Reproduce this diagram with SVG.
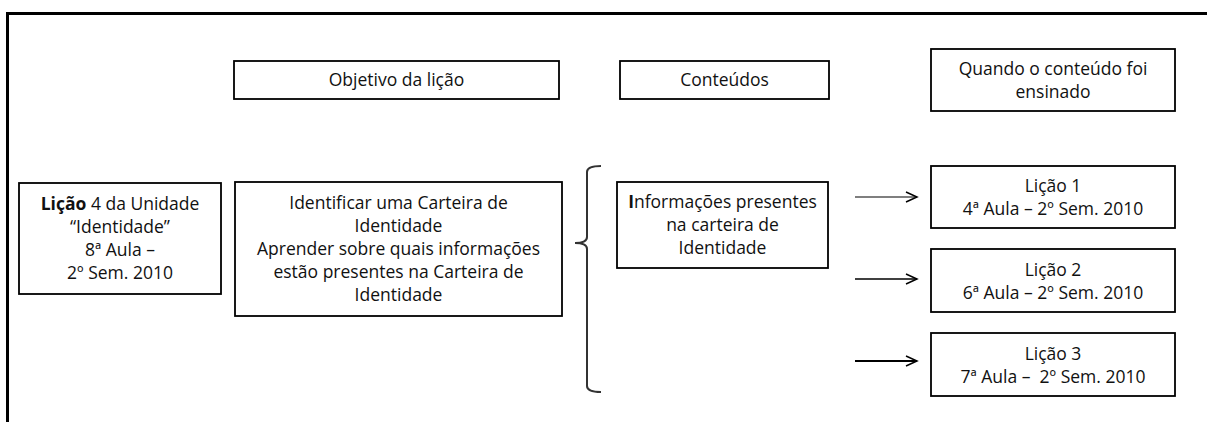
<svg xmlns="http://www.w3.org/2000/svg" width="1207" height="422" viewBox="0 0 1207 422">
<style>
.box{fill:#fff;stroke:#000;stroke-width:1.8}
.t{font-family:"Open Sans","DejaVu Sans",sans-serif;font-size:17.5px;fill:#111;text-anchor:middle}
.b{font-weight:bold}
.frame{stroke:#000;stroke-width:3;fill:none}
.arrow{stroke:#000;fill:none}
</style>
<defs>
<marker id="ah" markerWidth="16" markerHeight="14" refX="12" refY="6" orient="auto" markerUnits="userSpaceOnUse">
<path d="M1,1 L12,6 L1,11" fill="none" stroke="#000" stroke-width="1.5"/>
</marker>
</defs>
<rect width="1207" height="422" fill="#fff"/>
<path class="frame" d="M7.5,422 L7.5,13.5 L1207,13.5"/>

<g id="hdr-objetivo">
<rect class="box" x="234" y="61" width="325" height="38"/>
<text class="t" x="396.5" y="86">Objetivo da lição</text>
</g>
<g id="hdr-conteudos">
<rect class="box" x="620" y="61" width="209" height="38"/>
<text class="t" x="724.5" y="86">Conteúdos</text>
</g>
<g id="hdr-quando">
<rect class="box" x="931" y="49" width="244" height="62"/>
<text class="t" x="1053" y="74.5">Quando o conteúdo foi</text>
<text class="t" x="1053" y="97.5">ensinado</text>
</g>

<g id="licao4">
<rect class="box" x="19" y="183" width="202" height="111"/>
<text class="t" x="120" y="210"><tspan class="b">Lição</tspan> 4 da Unidade</text>
<text class="t" x="120" y="233">“Identidade”</text>
<text class="t" x="120" y="256">8ª Aula –</text>
<text class="t" x="120" y="279">2º Sem. 2010</text>
</g>

<g id="objetivo">
<rect class="box" x="235" y="182" width="327" height="134"/>
<text class="t" x="398.5" y="208.5">Identificar uma Carteira de</text>
<text class="t" x="398.5" y="231.5">Identidade</text>
<text class="t" x="398.5" y="254.5">Aprender sobre quais informações</text>
<text class="t" x="398.5" y="277.5">estão presentes na Carteira de</text>
<text class="t" x="398.5" y="300.5">Identidade</text>
</g>

<g id="bracket">
<path d="M601,166 Q587,166 587,172 L587,237 Q587,243 575,243 Q587,243 587,249 L587,386 Q587,392 601,392" fill="none" stroke="#333" stroke-width="2"/>
</g>

<g id="conteudo">
<rect class="box" x="617" y="182" width="211" height="86"/>
<text class="t" x="722.5" y="208"><tspan class="b">I</tspan>nformações presentes</text>
<text class="t" x="722.5" y="231">na carteira de</text>
<text class="t" x="722.5" y="254">Identidade</text>
</g>

<g id="licao1">
<rect class="box" x="931" y="166" width="244" height="62"/>
<text class="t" x="1053" y="192">Lição 1</text>
<text class="t" x="1053" y="215">4ª Aula – 2º Sem. 2010</text>
</g>
<g id="licao2">
<rect class="box" x="931" y="249" width="244" height="63"/>
<text class="t" x="1053" y="276">Lição 2</text>
<text class="t" x="1053" y="299">6ª Aula – 2º Sem. 2010</text>
</g>
<g id="licao3">
<rect class="box" x="931" y="333" width="244" height="63"/>
<text class="t" x="1053" y="360" xml:space="preserve">Lição 3</text>
<text class="t" x="1053" y="383" xml:space="preserve">7ª Aula –  2º Sem. 2010</text>
</g>

<g id="connectors">
<line class="arrow" x1="855" y1="197" x2="917" y2="197" stroke-width="1.2" marker-end="url(#ah)"/>
<line class="arrow" x1="855" y1="279" x2="917" y2="279" stroke-width="1.6" marker-end="url(#ah)"/>
<line class="arrow" x1="855" y1="361" x2="917" y2="361" stroke-width="2.2" marker-end="url(#ah)"/>
</g>
</svg>
